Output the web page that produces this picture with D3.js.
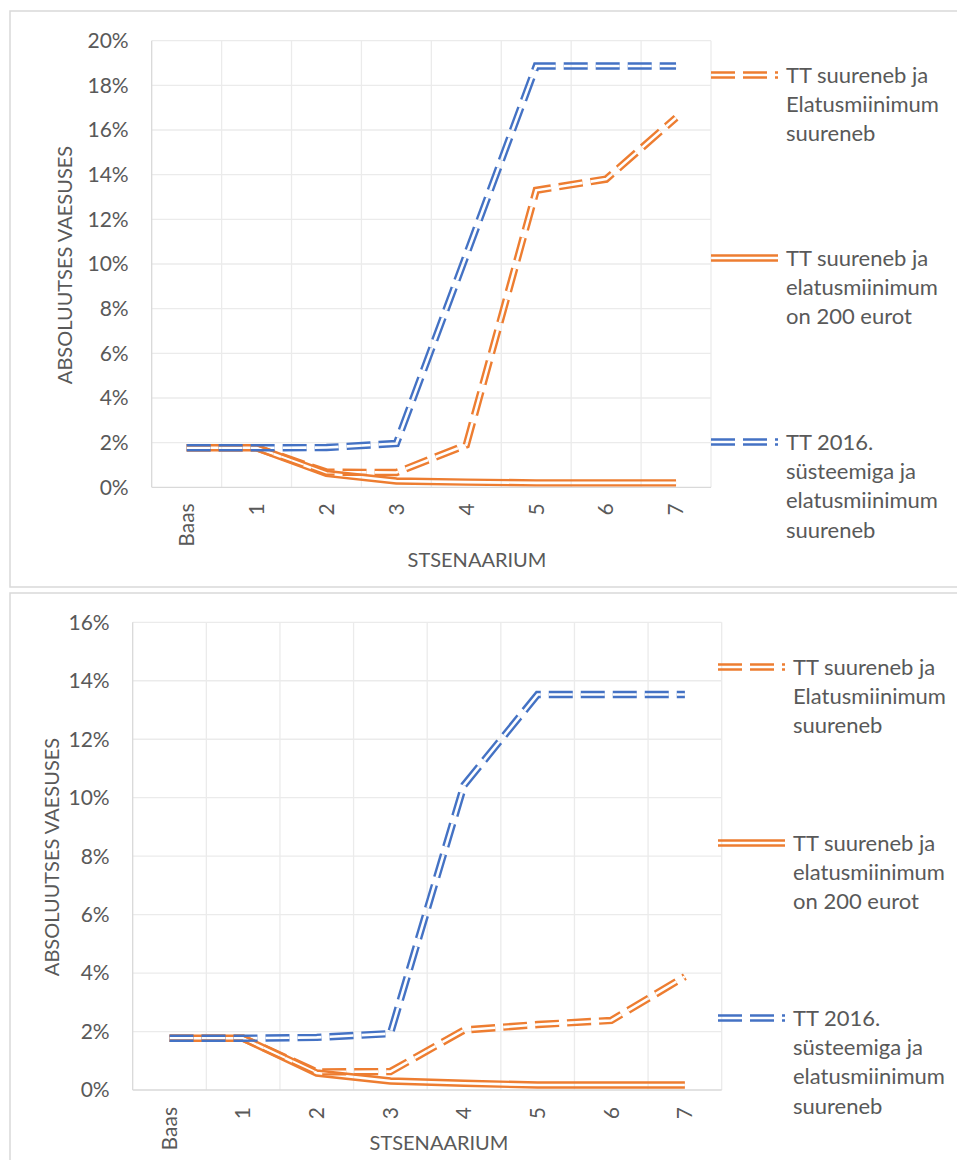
<!DOCTYPE html>
<html>
<head>
<meta charset="utf-8">
<script src="https://cdn.jsdelivr.net/npm/d3@7"></script>
<style>
  body { margin: 0; background: #fff; }
  text { font-family: Lato, "Open Sans", sans-serif; fill: #595959; }
</style>
</head>
<body>
<div id="chart"></div>
<script>
// categories on the x axis
var categories = ["Baas", "1", "2", "3", "4", "5", "6", "7"];

// series names (legend lines)
var seriesNames = [
    ["TT suureneb ja", "Elatusmiinimum", "suureneb"],
    ["TT suureneb ja", "elatusmiinimum", "on 200 eurot"],
    ["TT 2016.", "süsteemiga ja", "elatusmiinimum", "suureneb"]
];

// top chart values (%)
var topIncreaseBoth = [1.77, 1.77, 0.68, 0.66, 1.9, 13.3, 13.8, 16.55];
var topIncrease200 = [1.77, 1.77, 0.62, 0.28, 0.23, 0.2, 0.2, 0.2];
var topSystem2016 = [1.77, 1.77, 1.78, 1.96, 10.4, 18.87, 18.87, 18.87];
var topTicks = [0, 2, 4, 6, 8, 10, 12, 14, 16, 18, 20];

// bottom chart values (%)
var bottomIncreaseBoth = [1.77, 1.77, 0.62, 0.63, 2.05, 2.24, 2.38, 3.88];
var bottomIncrease200 = [1.77, 1.77, 0.58, 0.31, 0.23, 0.17, 0.17, 0.17];
var bottomSystem2016 = [1.77, 1.77, 1.8, 1.93, 10.43, 13.53, 13.53, 13.53];
var bottomTicks = [0, 2, 4, 6, 8, 10, 12, 14, 16];

var ORANGE = "#ED7D31", BLUE = "#4472C4";
var styles = [
    { color: ORANGE, dash: "24,8" },
    { color: ORANGE, dash: null },
    { color: BLUE, dash: "24,8" }
];

var svg = d3.select("#chart").append("svg")
    .attr("width", 957)
    .attr("height", 1160);

var defs = svg.append("defs");
var maskId = 0;

// compound (double) line: thick stroke with a thin centre cut out by a mask
var doubleLine = function(g, d, color, dash) {
    var id = "m" + (maskId++);
    var mask = defs.append("mask")
        .attr("id", id)
        .attr("maskUnits", "userSpaceOnUse")
        .attr("x", 0).attr("y", 0).attr("width", 957).attr("height", 1160);
    mask.append("rect")
        .attr("width", 957).attr("height", 1160).attr("fill", "white");
    mask.append("path")
        .attr("d", d)
        .attr("fill", "none")
        .attr("stroke", "black")
        .attr("stroke-width", 2.6)
        .attr("stroke-linejoin", "miter")
        .attr("stroke-dasharray", dash);
    g.append("path")
        .attr("d", d)
        .attr("fill", "none")
        .attr("stroke", color)
        .attr("stroke-width", 7.4)
        .attr("stroke-linejoin", "miter")
        .attr("stroke-dasharray", dash)
        .attr("mask", "url(#" + id + ")");
};

var drawChart = function(cfg) {
    var g = svg.append("g");

    // outer frame
    g.append("rect")
        .attr("x", cfg.frame[0]).attr("y", cfg.frame[1])
        .attr("width", cfg.frame[2]).attr("height", cfg.frame[3])
        .attr("fill", "none")
        .attr("stroke", "#d9d9d9")
        .attr("stroke-width", 1.5);

    var x = d3.scaleBand()
        .domain(categories)
        .range([cfg.plot.x0, cfg.plot.x1]);

    var y = d3.scaleLinear()
        .domain([0, d3.max(cfg.ticks)])
        .range([cfg.plot.y1, cfg.plot.y0]);

    // horizontal grid
    g.append("g")
        .selectAll("line")
        .data(cfg.ticks.filter(function(t) { return t > 0; }))
        .enter().append("line")
        .attr("x1", cfg.plot.x0).attr("x2", cfg.plot.x1)
        .attr("y1", function(t) { return y(t); })
        .attr("y2", function(t) { return y(t); })
        .attr("stroke", "#ebebeb")
        .attr("stroke-width", 1.3);

    // vertical grid between categories
    var edges = categories.map(function(c) { return x(c); }).concat([cfg.plot.x1]);
    g.append("g")
        .selectAll("line")
        .data(edges)
        .enter().append("line")
        .attr("x1", function(e) { return e; }).attr("x2", function(e) { return e; })
        .attr("y1", cfg.plot.y0).attr("y2", cfg.plot.y1)
        .attr("stroke", function(e, i) { return i === 0 ? "#d9d9d9" : "#ebebeb"; })
        .attr("stroke-width", 1.3);

    // category axis line
    g.append("line")
        .attr("x1", cfg.plot.x0).attr("x2", cfg.plot.x1)
        .attr("y1", y(0)).attr("y2", y(0))
        .attr("stroke", "#d9d9d9")
        .attr("stroke-width", 1.3);

    // y tick labels
    g.append("g")
        .selectAll("text")
        .data(cfg.ticks)
        .enter().append("text")
        .attr("x", cfg.plot.x0 - 23)
        .attr("y", function(t) { return y(t); })
        .attr("dy", "0.35em")
        .attr("text-anchor", "end")
        .style("font-size", "21px")
        .text(function(t) { return t + "%"; });

    // x tick labels (rotated)
    g.append("g")
        .selectAll("text")
        .data(categories)
        .enter().append("text")
        .attr("transform", function(c) {
            return "translate(" + (x(c) + x.bandwidth() / 2) + "," + (y(0) + cfg.xLabelGap) + ") rotate(-90)";
        })
        .attr("dy", "0.35em")
        .attr("text-anchor", "end")
        .style("font-size", "21px")
        .text(function(c) { return c; });

    // axis titles
    g.append("text")
        .attr("transform", "translate(" + cfg.yTitle[0] + "," + cfg.yTitle[1] + ") rotate(-90)")
        .attr("dy", "0.35em")
        .attr("text-anchor", "middle")
        .style("font-size", "20px")
        .text("ABSOLUUTSES VAESUSES");

    g.append("text")
        .attr("x", cfg.xTitle[0]).attr("y", cfg.xTitle[1])
        .attr("dy", "0.35em")
        .attr("text-anchor", "middle")
        .style("font-size", "20px")
        .text("STSENAARIUM");

    // series lines
    var line = d3.line()
        .x(function(v, i) { return x(categories[i]) + x.bandwidth() / 2; })
        .y(function(v) { return y(v); });

    var lines = g.append("g");
    cfg.series.forEach(function(s, k) {
        doubleLine(lines, line(s), styles[k].color, styles[k].dash);
    });

    // legend
    var leg = g.append("g");
    cfg.legendY.forEach(function(ly, k) {
        doubleLine(leg, "M" + cfg.legendX + "," + ly + "H" + (cfg.legendX + 67),
            styles[k].color, styles[k].dash);
        var t = leg.append("text")
            .attr("x", cfg.legendX + 75)
            .attr("y", ly)
            .style("font-size", "22px");
        seriesNames[k].forEach(function(s, j) {
            t.append("tspan")
                .attr("x", cfg.legendX + 75)
                .attr("y", ly + j * 29.3)
                .attr("dy", "0.35em")
                .text(s);
        });
    });
};

drawChart({
    frame: [10, 11, 960, 576],
    plot: { x0: 151.7, x1: 711, y0: 40.7, y1: 487.3 },
    ticks: topTicks,
    series: [topIncreaseBoth, topIncrease200, topSystem2016],
    xLabelGap: 16,
    yTitle: [65, 265],
    xTitle: [477, 560],
    legendX: 711,
    legendY: [75, 258, 442]
});

drawChart({
    frame: [10, 593, 960, 600],
    plot: { x0: 132.7, x1: 721.7, y0: 622.3, y1: 1090 },
    ticks: bottomTicks,
    series: [bottomIncreaseBoth, bottomIncrease200, bottomSystem2016],
    xLabelGap: 17,
    yTitle: [52, 857],
    xTitle: [439, 1143],
    legendX: 718,
    legendY: [667, 843, 1018]
});
</script>
</body>
</html>
